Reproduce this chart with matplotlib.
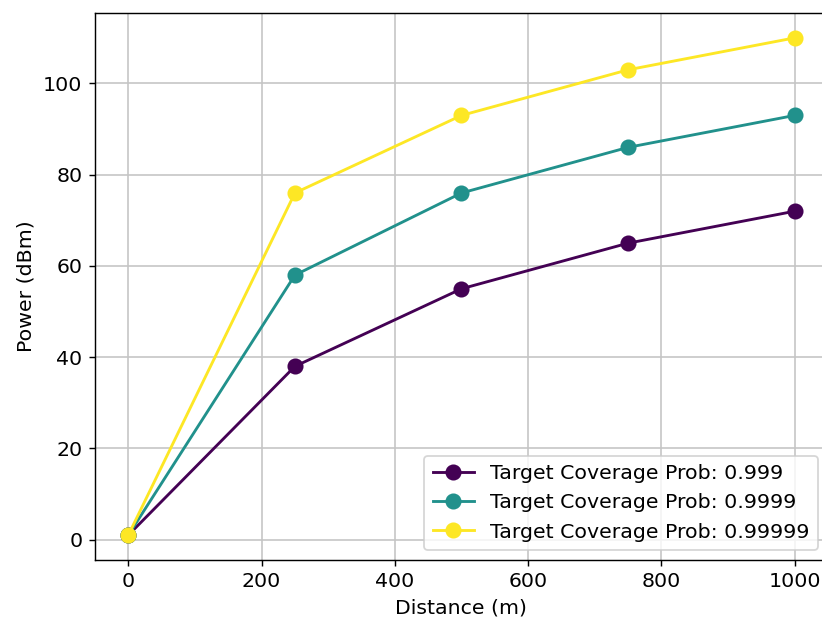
import matplotlib
matplotlib.use("Agg")
import matplotlib.pyplot as plt

distances = [0, 250, 500, 750, 1000]
probs = ["0.999", "0.9999", "0.99999"]
power_999 = [1, 38, 55, 65, 72]
power_9999 = [1, 58, 76, 86, 93]
power_99999 = [1, 76, 93, 103, 110]
colors = ["#440154", "#21918c", "#fde725"]

plt.rcParams["font.size"] = 11.5

dpi = 128.5
fig = plt.figure(figsize=(822 / dpi, 621 / dpi), dpi=dpi)
# the right side of the axes runs past the image edge, as in the reference
ax = fig.add_axes([95 / 822, 1 - 560 / 621, 733 / 822, 547 / 621])

for p, vals, c in zip(probs, [power_999, power_9999, power_99999], colors):
    ax.plot(distances, vals, marker="o", color=c, linewidth=1.6, markersize=8,
            label="Target Coverage Prob: " + p)

ax.set_xlabel("Distance (m)")
ax.set_ylabel("Power (dBm)")
ax.grid(True, color="#c4c4c4", linewidth=0.9)
ax.legend(loc="lower right")

fig.savefig("out.png", dpi=dpi)
